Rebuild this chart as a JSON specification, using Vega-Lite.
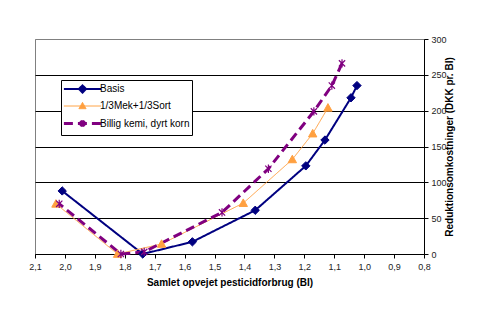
{
  "$schema": "https://vega.github.io/schema/vega-lite/v6.json",
  "width": 389,
  "height": 215,
  "autosize": {"type": "none"},
  "padding": {"left": 35, "top": 39, "right": 61, "bottom": 76},
  "background": "white",
  "data": {"values": [
    {"series": "Basis", "x": 2.009, "y": 88},
    {"series": "Basis", "x": 1.740, "y": 0},
    {"series": "Basis", "x": 1.574, "y": 17},
    {"series": "Basis", "x": 1.364, "y": 61},
    {"series": "Basis", "x": 1.195, "y": 123},
    {"series": "Basis", "x": 1.131, "y": 159},
    {"series": "Basis", "x": 1.044, "y": 218},
    {"series": "Basis", "x": 1.024, "y": 235},
    {"series": "1/3Mek+1/3Sort", "x": 2.030, "y": 70},
    {"series": "1/3Mek+1/3Sort", "x": 1.824, "y": 0},
    {"series": "1/3Mek+1/3Sort", "x": 1.677, "y": 14},
    {"series": "1/3Mek+1/3Sort", "x": 1.404, "y": 71},
    {"series": "1/3Mek+1/3Sort", "x": 1.240, "y": 132},
    {"series": "1/3Mek+1/3Sort", "x": 1.172, "y": 168},
    {"series": "1/3Mek+1/3Sort", "x": 1.121, "y": 204},
    {"series": "Billig kemi, dyrt korn", "x": 2.019, "y": 70},
    {"series": "Billig kemi, dyrt korn", "x": 1.813, "y": 0},
    {"series": "Billig kemi, dyrt korn", "x": 1.735, "y": 3},
    {"series": "Billig kemi, dyrt korn", "x": 1.475, "y": 58},
    {"series": "Billig kemi, dyrt korn", "x": 1.320, "y": 119},
    {"series": "Billig kemi, dyrt korn", "x": 1.168, "y": 199},
    {"series": "Billig kemi, dyrt korn", "x": 1.108, "y": 235},
    {"series": "Billig kemi, dyrt korn", "x": 1.074, "y": 266}
  ]},
  "encoding": {
    "x": {
      "field": "x", "type": "quantitative",
      "scale": {"domain": [0.8, 2.1], "reverse": true, "nice": false, "zero": false},
      "axis": {
        "title": "Samlet opvejet pesticidforbrug (BI)",
        "values": [0.8, 0.9, 1.0, 1.1, 1.2, 1.3, 1.4, 1.5, 1.6, 1.7, 1.8, 1.9, 2.0, 2.1],
        "labelExpr": "replace(format(datum.value, '.1f'), '.', ',')",
        "grid": false, "tickSize": 4, "labelPadding": 4, "labelFontSize": 9,
        "titleFontSize": 10, "titleFontWeight": "bold", "titlePadding": 6, "labelFlush": false
      }
    },
    "y": {
      "field": "y", "type": "quantitative",
      "scale": {"domain": [0, 300], "nice": false},
      "axis": {
        "orient": "right",
        "title": "Reduktionsomkostninger (DKK pr. BI)",
        "titleAngle": 270,
        "values": [0, 50, 100, 150, 200, 250, 300],
        "grid": true,
        "gridColor": {"condition": {"test": "datum.value === 300", "value": "#808080"}, "value": "black"},
        "gridOpacity": 1,
        "tickSize": 4, "labelPadding": 3, "labelFontSize": 9,
        "titleFontSize": 10, "titleFontWeight": "bold", "titlePadding": 8
      }
    }
  },
  "layer": [
    {
      "mark": {"type": "line"},
      "encoding": {
        "color": {"field": "series", "type": "nominal", "scale": {"domain": ["Basis", "1/3Mek+1/3Sort", "Billig kemi, dyrt korn"], "range": ["#000080", "#FFA040", "#800080"]}},
        "strokeDash": {"field": "series", "type": "nominal", "scale": {"domain": ["Basis", "1/3Mek+1/3Sort", "Billig kemi, dyrt korn"], "range": [[1, 0], [1, 0], [9, 5]]}},
        "strokeWidth": {"field": "series", "type": "nominal", "scale": {"type": "ordinal", "domain": ["Basis", "1/3Mek+1/3Sort", "Billig kemi, dyrt korn"], "range": [2, 1, 3]}},
        "order": {"field": "x", "type": "quantitative"}
      }
    },
    {
      "transform": [{"filter": "datum.series === 'Basis'"}],
      "mark": {"type": "point", "filled": true, "opacity": 1, "color": "#000080", "stroke": "#000080", "strokeWidth": 1, "shape": "M0,-1L1,0L0,1L-1,0Z", "size": 70}
    },
    {
      "transform": [{"filter": "datum.series === '1/3Mek+1/3Sort'"}],
      "mark": {"type": "point", "filled": true, "opacity": 1, "color": "#FFA040", "stroke": "#FFA040", "strokeWidth": 1, "shape": "M0,-1L1,0.8L-1,0.8Z", "size": 70}
    },
    {
      "transform": [{"filter": "datum.series === 'Billig kemi, dyrt korn'"}],
      "mark": {"type": "point", "filled": false, "opacity": 1, "color": "#800080", "strokeWidth": 1.2, "shape": "M-0.75,-0.75L0.75,0.75M0.75,-0.75L-0.75,0.75M0,-1V1", "size": 70}
    },
    {
      "mark": {"type": "point", "filled": true, "opacity": 0},
      "encoding": {
        "color": {"field": "series", "type": "nominal", "scale": {"domain": ["Basis", "1/3Mek+1/3Sort", "Billig kemi, dyrt korn"], "range": ["#000080", "#FFA040", "#800080"]}},
        "stroke": {"field": "series", "type": "nominal", "scale": {"domain": ["Basis", "1/3Mek+1/3Sort", "Billig kemi, dyrt korn"], "range": ["#000080", "#FFA040", "#800080"]}},
        "strokeDash": {"field": "series", "type": "nominal", "scale": {"domain": ["Basis", "1/3Mek+1/3Sort", "Billig kemi, dyrt korn"], "range": [[1, 0], [1, 0], [9, 5]]}},
        "strokeWidth": {"field": "series", "type": "nominal", "scale": {"type": "ordinal", "domain": ["Basis", "1/3Mek+1/3Sort", "Billig kemi, dyrt korn"], "range": [2, 1, 3]}},
        "shape": {"field": "series", "type": "nominal",
          "scale": {"domain": ["Basis", "1/3Mek+1/3Sort", "Billig kemi, dyrt korn"], "range": ["M-3.1,0H3.1M0,-0.6L0.6,0L0,0.6L-0.6,0Z", "M-3.1,0H3.1M0,-0.6L0.6,0.45L-0.6,0.45Z", "M-3.1,0H3.1M-0.4,-0.4L0.4,0.4M0.4,-0.4L-0.4,0.4M0,-0.55V0.55"]}
        }
      }
    }
  ],
  "config": {
    "view": {"stroke": "#808080", "strokeWidth": 1},
    "font": "Liberation Sans",
    "axis": {"labelFont": "Liberation Sans", "titleFont": "Liberation Sans", "labelColor": "#222", "titleColor": "black", "domainColor": "black", "tickColor": "black"},
    "legend": {
      "title": null, "orient": "none", "legendX": 26, "legendY": 41,
      "direction": "vertical",
      "symbolSize": 144, "symbolOpacity": 1,
      "symbolOffset": 12,
      "labelFont": "Liberation Sans", "labelFontSize": 10, "labelColor": "black", "labelOffset": 10,
      "rowPadding": 2.5, "padding": 2,
      "strokeColor": "black", "fillColor": "white"
    }
  }
}
